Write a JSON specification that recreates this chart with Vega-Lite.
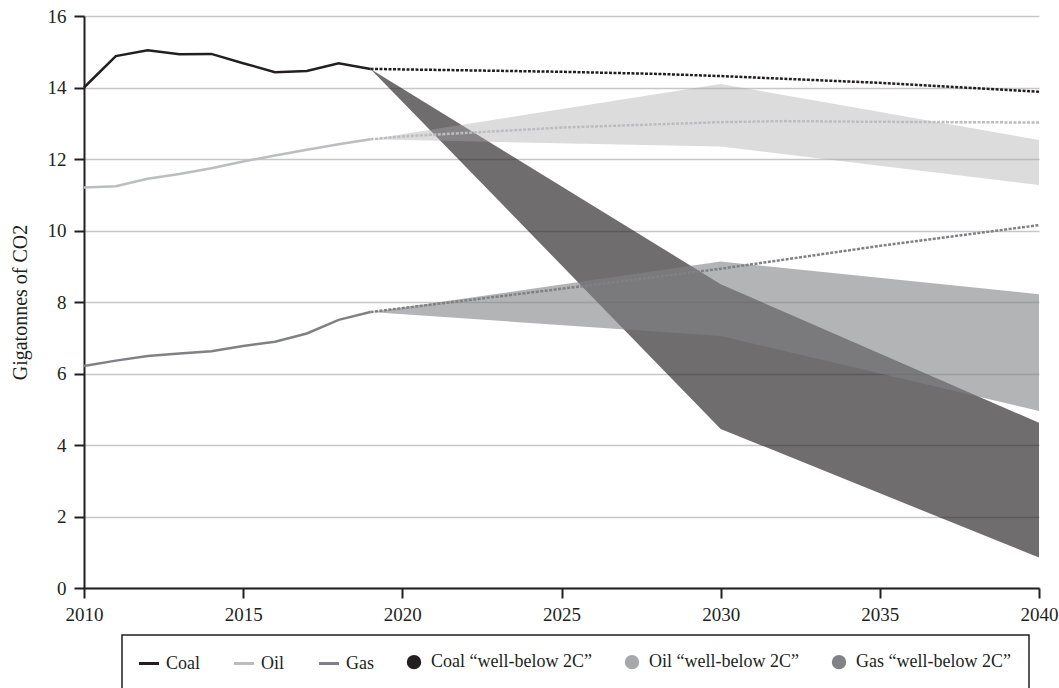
{
  "$schema": "https://vega.github.io/schema/vega-lite/v6.json",
  "width": 955,
  "height": 572,
  "autosize": {"type": "none"},
  "padding": {"left": 84, "top": 16, "right": 20, "bottom": 100},
  "background": "white",
  "config": {
    "font": "Liberation Serif",
    "view": {"stroke": null},
    "axis": {
      "labelFont": "Liberation Serif",
      "labelFontSize": 19,
      "labelColor": "#231f20",
      "labelFlush": false,
      "titleFont": "Liberation Serif",
      "titleFontSize": 20,
      "titleFontWeight": "normal",
      "titleColor": "#231f20",
      "domainColor": "#231f20",
      "domainWidth": 2,
      "tickColor": "#231f20",
      "tickWidth": 2,
      "tickSize": 10
    },
    "legend": {
      "labelFont": "Liberation Serif",
      "labelFontSize": 18,
      "labelColor": "#231f20",
      "labelLimit": 0,
      "symbolSize": 400,
      "symbolStrokeWidth": 3,
      "columnPadding": 28,
      "labelOffset": 8,
      "padding": 18,
      "strokeColor": "#231f20",
      "strokeWidth": 1.5
    }
  },
  "datasets": {
    "history": [
      {"year": 2010, "fuel": "Coal", "value": 14.0},
      {"year": 2011, "fuel": "Coal", "value": 14.88},
      {"year": 2012, "fuel": "Coal", "value": 15.04},
      {"year": 2013, "fuel": "Coal", "value": 14.93},
      {"year": 2014, "fuel": "Coal", "value": 14.94},
      {"year": 2015, "fuel": "Coal", "value": 14.68},
      {"year": 2016, "fuel": "Coal", "value": 14.43},
      {"year": 2017, "fuel": "Coal", "value": 14.46},
      {"year": 2018, "fuel": "Coal", "value": 14.68},
      {"year": 2019, "fuel": "Coal", "value": 14.52},
      {"year": 2010, "fuel": "Oil", "value": 11.2},
      {"year": 2011, "fuel": "Oil", "value": 11.24},
      {"year": 2012, "fuel": "Oil", "value": 11.45},
      {"year": 2013, "fuel": "Oil", "value": 11.58},
      {"year": 2014, "fuel": "Oil", "value": 11.74},
      {"year": 2015, "fuel": "Oil", "value": 11.93},
      {"year": 2016, "fuel": "Oil", "value": 12.1},
      {"year": 2017, "fuel": "Oil", "value": 12.26},
      {"year": 2018, "fuel": "Oil", "value": 12.41},
      {"year": 2019, "fuel": "Oil", "value": 12.55},
      {"year": 2010, "fuel": "Gas", "value": 6.21},
      {"year": 2011, "fuel": "Gas", "value": 6.36},
      {"year": 2012, "fuel": "Gas", "value": 6.49},
      {"year": 2013, "fuel": "Gas", "value": 6.56},
      {"year": 2014, "fuel": "Gas", "value": 6.62},
      {"year": 2015, "fuel": "Gas", "value": 6.77},
      {"year": 2016, "fuel": "Gas", "value": 6.89},
      {"year": 2017, "fuel": "Gas", "value": 7.12},
      {"year": 2018, "fuel": "Gas", "value": 7.5},
      {"year": 2019, "fuel": "Gas", "value": 7.72}
    ],
    "outlook": [
      {"year": 2019, "fuel": "Coal", "value": 14.52},
      {"year": 2025, "fuel": "Coal", "value": 14.44},
      {"year": 2028, "fuel": "Coal", "value": 14.38},
      {"year": 2030, "fuel": "Coal", "value": 14.32},
      {"year": 2035, "fuel": "Coal", "value": 14.13},
      {"year": 2040, "fuel": "Coal", "value": 13.88},
      {"year": 2019, "fuel": "Oil", "value": 12.55},
      {"year": 2020, "fuel": "Oil", "value": 12.63},
      {"year": 2025, "fuel": "Oil", "value": 12.88},
      {"year": 2030, "fuel": "Oil", "value": 13.03},
      {"year": 2032, "fuel": "Oil", "value": 13.06},
      {"year": 2035, "fuel": "Oil", "value": 13.04},
      {"year": 2040, "fuel": "Oil", "value": 13.02},
      {"year": 2019, "fuel": "Gas", "value": 7.72},
      {"year": 2025, "fuel": "Gas", "value": 8.37},
      {"year": 2030, "fuel": "Gas", "value": 8.93},
      {"year": 2035, "fuel": "Gas", "value": 9.57},
      {"year": 2040, "fuel": "Gas", "value": 10.15}
    ],
    "pathways": [
      {"year": 2019, "fuel": "Coal", "series": "Coal “well-below 2C”", "lo": 14.52, "hi": 14.52},
      {"year": 2030, "fuel": "Coal", "series": "Coal “well-below 2C”", "lo": 4.45, "hi": 8.5},
      {"year": 2040, "fuel": "Coal", "series": "Coal “well-below 2C”", "lo": 0.85, "hi": 4.62},
      {"year": 2019, "fuel": "Oil", "series": "Oil “well-below 2C”", "lo": 12.55, "hi": 12.55},
      {"year": 2030, "fuel": "Oil", "series": "Oil “well-below 2C”", "lo": 12.35, "hi": 14.1},
      {"year": 2040, "fuel": "Oil", "series": "Oil “well-below 2C”", "lo": 11.27, "hi": 12.53},
      {"year": 2019, "fuel": "Gas", "series": "Gas “well-below 2C”", "lo": 7.72, "hi": 7.72},
      {"year": 2030, "fuel": "Gas", "series": "Gas “well-below 2C”", "lo": 7.05, "hi": 9.13},
      {"year": 2040, "fuel": "Gas", "series": "Gas “well-below 2C”", "lo": 4.95, "hi": 8.22}
    ]
  },
  "layer": [
    {
      "data": {"name": "pathways"},
      "transform": [{"filter": "datum.fuel === 'Coal'"}],
      "mark": {"type": "area", "opacity": 0.65},
      "encoding": {
        "x": {
          "field": "year", "type": "quantitative",
          "scale": {"domain": [2010, 2040], "nice": false, "zero": false},
          "axis": {"values": [2010, 2015, 2020, 2025, 2030, 2035, 2040], "format": "d", "grid": false, "title": null, "labelPadding": 7}
        },
        "y": {
          "field": "lo", "type": "quantitative",
          "scale": {"domain": [0, 16], "nice": false},
          "title": "Gigatonnes of CO2",
          "axis": {"values": [0, 2, 4, 6, 8, 10, 12, 14, 16], "grid": true, "gridColor": "#c6c6c6", "gridWidth": 1.5, "labelPadding": 8, "titlePadding": 17}
        },
        "y2": {"field": "hi"},
        "color": {
          "field": "series", "type": "nominal",
          "scale": {
            "domain": ["Coal", "Oil", "Gas", "Coal “well-below 2C”", "Oil “well-below 2C”", "Gas “well-below 2C”"],
            "range": ["#231f20", "#bcbdc0", "#808184", "#231f20", "#a7a8ab", "#818285"]
          },
          "legend": {
            "title": null,
            "orient": "none",
            "legendX": 38,
            "legendY": 619,
            "direction": "horizontal",
            "encoding": {
              "symbols": {
                "shape": {"value": {"expr": "indexof(['Coal','Oil','Gas'], datum.value) >= 0 ? 'stroke' : 'circle'"}},
                "size": {"value": {"expr": "indexof(['Coal','Oil','Gas'], datum.value) >= 0 ? 400 : 130"}},
                "fill": {"value": {"expr": "indexof(['Coal','Oil','Gas'], datum.value) >= 0 ? 'transparent' : scale('color', datum.value)"}},
                "stroke": {"value": {"expr": "indexof(['Coal','Oil','Gas'], datum.value) >= 0 ? scale('color', datum.value) : 'transparent'"}},
                "strokeWidth": {"value": 3},
                "opacity": {"value": 1}
              }
            }
          }
        }
      }
    },
    {
      "data": {"name": "pathways"},
      "transform": [{"filter": "datum.fuel === 'Oil'"}],
      "mark": {"type": "area", "opacity": 0.4},
      "encoding": {
        "x": {"field": "year", "type": "quantitative"},
        "y": {"field": "lo", "type": "quantitative", "title": "Gigatonnes of CO2"},
        "y2": {"field": "hi"},
        "color": {"field": "series", "type": "nominal"}
      }
    },
    {
      "data": {"name": "pathways"},
      "transform": [{"filter": "datum.fuel === 'Gas'"}],
      "mark": {"type": "area", "opacity": 0.6},
      "encoding": {
        "x": {"field": "year", "type": "quantitative"},
        "y": {"field": "lo", "type": "quantitative", "title": "Gigatonnes of CO2"},
        "y2": {"field": "hi"},
        "color": {"field": "series", "type": "nominal"}
      }
    },
    {
      "data": {"name": "history"},
      "mark": {"type": "line", "strokeWidth": 2.5},
      "encoding": {
        "x": {"field": "year", "type": "quantitative"},
        "y": {"field": "value", "type": "quantitative", "title": "Gigatonnes of CO2"},
        "color": {"field": "fuel", "type": "nominal"}
      }
    },
    {
      "data": {"name": "outlook"},
      "mark": {"type": "line", "strokeWidth": 2.5, "strokeDash": [3, 1.5]},
      "encoding": {
        "x": {"field": "year", "type": "quantitative"},
        "y": {"field": "value", "type": "quantitative", "title": "Gigatonnes of CO2"},
        "color": {"field": "fuel", "type": "nominal"}
      }
    }
  ]
}
